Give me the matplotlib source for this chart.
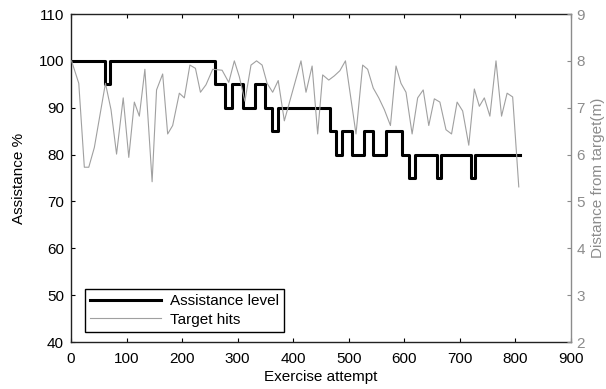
import matplotlib; matplotlib.use("Agg")
import matplotlib.pyplot as plt

plt.rcParams['font.family'] = ['Liberation Sans', 'DejaVu Sans']

# assistance level: attempt where each level starts, and the level
assist_x = [0, 61, 71, 259, 277, 290, 309, 331, 350, 361, 372, 466, 477, 487,
            506, 527, 544, 567, 596, 600, 609, 619, 658, 666, 720, 728, 808]
assist_y = [100, 95, 100, 95, 90, 95, 90, 95, 90, 85, 90, 85, 80, 85,
            80, 85, 80, 85, 80, 80, 75, 80, 75, 80, 75, 80, 80]

# target hits: distance from target (m)
hit_x = [1, 14, 24, 32, 42, 62, 72, 82, 94, 104, 114, 123, 133, 146, 154, 165,
         174, 183, 195, 204, 214, 224, 233, 243, 255, 272, 284, 294, 303, 313,
         324, 334, 344, 353, 363, 373, 384, 414, 423, 434, 444, 453, 464, 474,
         484, 494, 513, 525, 534, 544, 554, 564, 575, 585, 594, 603, 614, 624,
         634, 644, 654, 664, 675, 685, 695, 705, 716, 726, 735, 744, 754, 765,
         775, 785, 795, 806]
hit_d = [8.0, 7.52, 5.73, 5.73, 6.15, 7.52, 6.96, 6.01, 7.21, 5.94, 7.12, 6.82,
         7.82, 5.42, 7.38, 7.72, 6.44, 6.62, 7.31, 7.21, 7.91, 7.84, 7.33, 7.49,
         7.82, 7.80, 7.54, 8.0, 7.66, 7.14, 7.91, 8.0, 7.91, 7.52, 7.33, 7.58,
         6.72, 8.0, 7.33, 7.89, 6.44, 7.70, 7.59, 7.68, 7.79, 8.0, 6.44, 7.91,
         7.82, 7.42, 7.21, 6.96, 6.62, 7.89, 7.52, 7.33, 6.44, 7.21, 7.38, 6.62,
         7.19, 7.12, 6.53, 6.44, 7.12, 6.93, 6.20, 7.40, 7.03, 7.21, 6.82, 8.0,
         6.82, 7.31, 7.23, 5.31]

gray = "#8c8c8c"
fs = 11

fig = plt.figure(figsize=(6.06, 3.89), dpi=100)
ax = fig.add_axes([71/606, 1-342/389, 500/606, 328/389])
ax2 = ax.twinx()

l1, = ax.step(assist_x, assist_y, where="post", color="black", lw=2.2,
              label="Assistance level")
l2, = ax2.plot(hit_x, hit_d, color="#a0a0a0", lw=0.8, label="Target hits")

ax.set_xlim(0, 900)
ax.set_ylim(40, 110)
ax2.set_ylim(2, 9)
ax.set_xticks(range(0, 901, 100))
ax.set_yticks(range(40, 111, 10))
ax2.set_yticks(range(2, 10))

ax.tick_params(direction="in", length=3, labelsize=fs, top=True, right=False,
               colors="black")
ax.tick_params(axis="x", pad=7)
ax.tick_params(axis="y", pad=5)
ax2.tick_params(direction="in", length=3, labelsize=fs, colors=gray, pad=4)
ax2.spines["right"].set_color(gray)
for s in ["left", "top", "bottom"]:
    ax.spines[s].set_color("#222222")
    ax2.spines[s].set_visible(False)
for s in ax.spines.values():
    s.set_linewidth(1.0)
ax2.spines["right"].set_linewidth(1.0)
ax.spines["right"].set_visible(False)

ax.set_xlabel("Exercise attempt", fontsize=fs, labelpad=3)
ax.set_ylabel("Assistance %", fontsize=fs, labelpad=9)
ax2.set_ylabel("Distance from target(m)", fontsize=fs, color=gray, labelpad=4)

leg = ax2.legend(handles=[l1, l2], loc="lower left",
                 bbox_to_anchor=(0.028, 0.03), fancybox=False, framealpha=1,
                 edgecolor="black", fontsize=fs, borderaxespad=0,
                 handlelength=4.6, handletextpad=0.6, borderpad=0.35,
                 labelspacing=0.3)
leg.get_frame().set_linewidth(1.0)

plt.savefig("out.png", dpi=100)
